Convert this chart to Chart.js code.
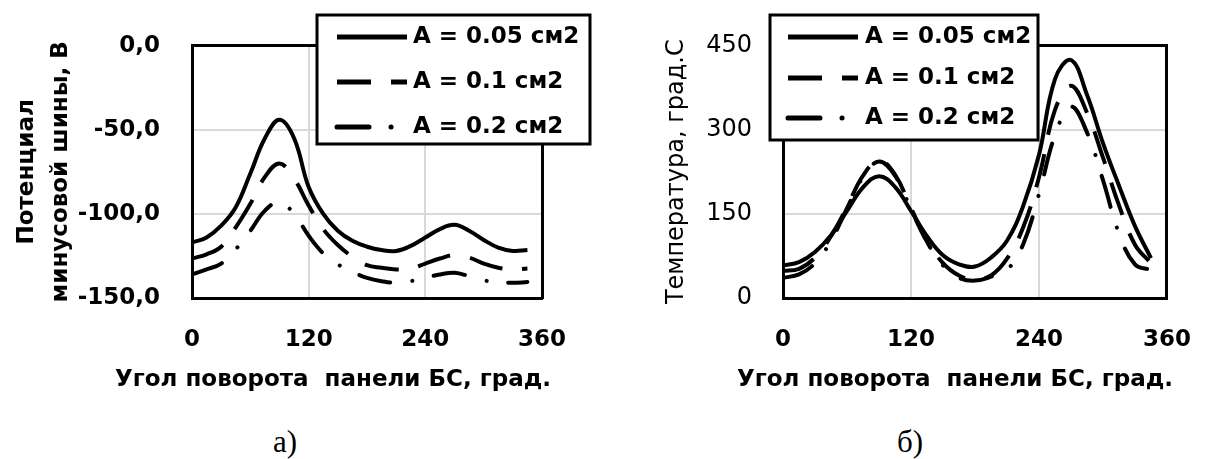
<!DOCTYPE html>
<html>
<head>
<meta charset="utf-8">
<script src="https://cdn.jsdelivr.net/npm/chart.js@4.4.0/dist/chart.umd.min.js"></script>
<style>
    body { margin: 0; background: #fff; width: 1219px; height: 459px; overflow: hidden; position: relative; }
    canvas { position: absolute; top: 0; }
    #potential { left: 0; }
    #temperature { left: 600px; }
    .xtitle { position: absolute; top: 365px; line-height: 30px; white-space: pre;
        font: bold 23px "DejaVu Sans", sans-serif; transform: translateX(-50%); }
    .caption { position: absolute; top: 424px; line-height: 38px;
        font: 31px "Liberation Serif", serif; transform: translateX(-50%); }
</style>
</head>
<body>
<canvas id="potential" width="600" height="400"></canvas>
<canvas id="temperature" width="619" height="400"></canvas>
<div class="xtitle" style="left:333px">Угол поворота  панели БС, град.</div>
<div class="xtitle" style="left:955px">Угол поворота  панели БС, град.</div>
<div class="caption" style="left:285px">а)</div>
<div class="caption" style="left:910px">б)</div>
<script>
// angle of the solar panel, deg
const angles = [0, 15, 30, 45, 60, 75, 90, 105, 120, 135, 150, 165, 180, 195, 210, 225, 240, 255, 270, 285, 300, 315, 330, 345];
const seriesNames = ['A = 0.05 см2', 'A = 0.1 см2', 'A = 0.2 см2'];

// a) potential of the minus bus, V
const pot005 = [-117, -114, -107, -96, -76, -55, -44, -55, -84, -100, -110, -116, -119.5, -121.5, -122, -119, -114, -109, -106.5, -110, -115.5, -120, -122, -121.5];
const pot01 = [-126.5, -124, -119.5, -108, -94, -78, -70, -79, -95, -109, -118.5, -125.5, -130.5, -132, -133, -132.5, -129.5, -126.5, -124.5, -126, -129.5, -132, -133, -132.5];
const pot02 = [-136, -133, -129.5, -121, -110, -98, -93, -100, -113, -123.5, -130, -134.5, -138, -140, -141, -140, -138, -136, -135, -137, -139.5, -140.5, -141, -140.5];
const potTicks = [-150, -100, -50, 0];
const potTickLabels = ['-150,0', '-100,0', '-50,0', '0,0'];

// б) temperature, deg C
const temp005 = [58, 64, 82, 112, 155, 197, 217, 198, 155, 110, 76, 60, 56, 72, 102, 163, 255, 390, 424, 362, 276, 200, 128, 71];
const temp01 = [48, 52, 72, 110, 162, 218, 245, 220, 160, 103, 62, 40, 33, 40, 70, 125, 215, 335, 378, 330, 250, 165, 95, 62];
const temp02 = [36, 42, 62, 102, 160, 215, 243, 218, 158, 100, 58, 36, 31, 38, 50, 95, 185, 290, 341, 295, 210, 115, 60, 50];
const tempTicks = [0, 150, 300, 450];
const tempTickLabels = ['0', '150', '300', '450'];

const angleTicks = [0, 120, 240, 360];

Chart.defaults.font.family = '"DejaVu Sans", sans-serif';
Chart.defaults.color = '#000';

function points(ys) {
    return ys.map((y, i) => ({x: angles[i], y: y}));
}

function makeDatasets(a, b, c) {
    return [
        {label: seriesNames[0], data: points(a), borderDash: [], borderCapStyle: 'butt'},
        {label: seriesNames[1], data: points(b), borderDash: [34, 20], borderCapStyle: 'butt'},
        {label: seriesNames[2], data: points(c), borderDash: [32, 22, 0.1, 22], borderCapStyle: 'round'}
    ].map(d => Object.assign(d, {
        borderColor: '#000',
        backgroundColor: 'transparent',
        borderWidth: 4,
        pointRadius: 0,
        tension: 0.4,
        fill: false
    }));
}

// legend box drawn over the plot, like the Excel one
const boxLegend = {
    id: 'boxLegend',
    afterDraw(chart, args, opts) {
        const ctx = chart.ctx;
        ctx.save();
        ctx.fillStyle = '#fff';
        ctx.fillRect(opts.x, opts.y, opts.w, opts.h);
        ctx.strokeStyle = '#000';
        ctx.lineWidth = 3;
        ctx.strokeRect(opts.x, opts.y, opts.w, opts.h);
        ctx.font = 'bold 23px "DejaVu Sans", sans-serif';
        ctx.textBaseline = 'middle';
        ctx.fillStyle = '#000';
        chart.data.datasets.forEach((ds, i) => {
            const y = opts.rows[i];
            ctx.lineWidth = 5;
            ctx.lineCap = ds.borderCapStyle;
            ctx.setLineDash(ds.borderDash);
            ctx.beginPath();
            ctx.moveTo(opts.lineFrom, y);
            ctx.lineTo(opts.lineTo, y);
            ctx.stroke();
            ctx.setLineDash([]);
            ctx.fillText(ds.label, opts.textX, y);
        });
        ctx.restore();
    }
};

function frameAxis(position) {
    return {
        type: 'linear',
        position: position,
        ticks: {display: false},
        grid: {display: false, drawTicks: false},
        border: {display: true, color: '#000', width: 3},
        afterFit: s => { if (position === 'top') s.height = 0; else s.width = 0; }
    };
}

function makeChart(id, cfg) {
    return new Chart(document.getElementById(id).getContext('2d'), {
        type: 'line',
        data: {datasets: makeDatasets(...cfg.series)},
        plugins: [boxLegend],
        options: {
            responsive: false,
            animation: false,
            layout: {padding: {top: cfg.top, right: cfg.right, left: 0, bottom: 0}},
            plugins: {
                legend: {display: false},
                tooltip: {enabled: false},
                boxLegend: cfg.legend
            },
            scales: {
                x: {
                    type: 'linear',
                    min: 0, max: 360,
                    afterBuildTicks: s => { s.ticks = angleTicks.map(v => ({value: v})); },
                    ticks: {padding: 28, font: {size: 23, weight: 'bold'}, maxRotation: 0},
                    grid: {color: '#d9d9d9', lineWidth: 2, drawTicks: false},
                    border: {display: true, color: '#000', width: 3},
                    afterFit: s => { s.height = 102; }
                },
                y: {
                    min: cfg.yTicks[0], max: cfg.yTicks[cfg.yTicks.length - 1],
                    afterBuildTicks: s => { s.ticks = cfg.yTicks.map(v => ({value: v})); },
                    ticks: {
                        padding: cfg.yPad,
                        font: cfg.yTickFont,
                        callback: v => cfg.yLabels[cfg.yTicks.indexOf(v)]
                    },
                    grid: {color: '#d9d9d9', lineWidth: 2, drawTicks: false},
                    border: {display: true, color: '#000', width: 3},
                    title: cfg.yTitle,
                    afterFit: s => { s.width = cfg.yWidth; }
                },
                xTop: frameAxis('top'),
                yRight: frameAxis('right')
            }
        }
    });
}

let chartPotential = makeChart('potential', {
    series: [pot005, pot01, pot02],
    top: 24, right: 58,
    yTicks: potTicks, yLabels: potTickLabels, yWidth: 192, yPad: 32,
    yTickFont: {size: 23, weight: 'bold'},
    yTitle: {
        display: true,
        text: ['Потенциал', 'минусовой шины, В'],
        font: {size: 23, weight: 'bold', lineHeight: 1.48},
        padding: {top: 10, bottom: 0}
    },
    legend: {x: 317, y: 15, w: 273, h: 129, rows: [37, 82, 127], lineFrom: 337, lineTo: 407, textX: 413}
});

let chartTemperature = makeChart('temperature', {
    series: [temp005, temp01, temp02],
    top: 26, right: 39,
    yTicks: tempTicks, yLabels: tempTickLabels, yWidth: 183, yPad: 31,
    yTickFont: {size: 24, weight: 'normal'},
    yTitle: {
        display: true,
        text: 'Температура, град.С',
        font: {size: 24, weight: 'normal', lineHeight: 1.2},
        padding: {top: 62, bottom: 0}
    },
    legend: {x: 170, y: 15, w: 268, h: 125, rows: [37, 78, 118], lineFrom: 188, lineTo: 258, textX: 265}
});
</script>
</body>
</html>
